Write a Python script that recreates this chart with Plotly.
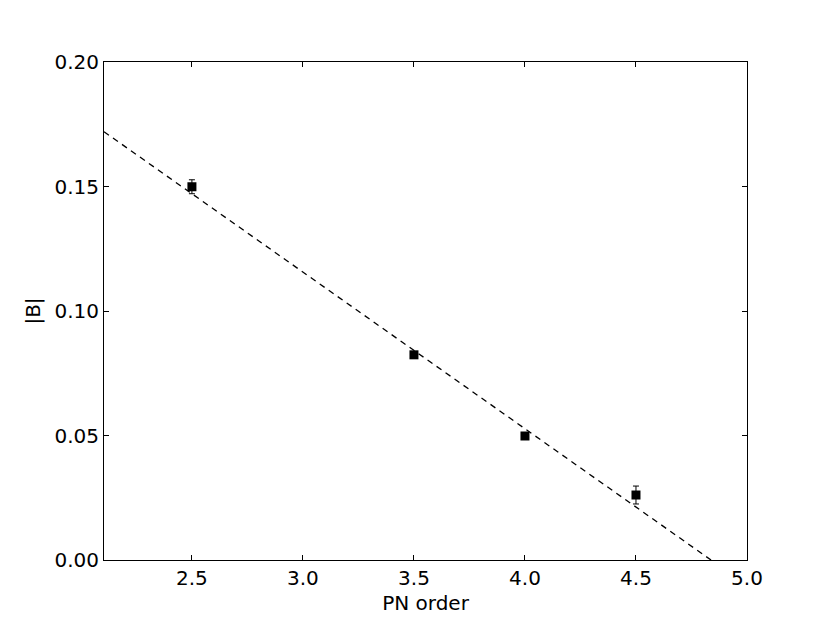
import plotly.graph_objects as go

pn_order = [2.5, 3.5, 4.0, 4.5]
abs_b = [0.1499, 0.0824, 0.0498, 0.0261]
abs_b_err = [0.0028, 0.0008, 0.0008, 0.0036]

fit_x = [2.104, 4.838]
fit_y = [0.1720, 0.0]

x_ticks = [2.5, 3.0, 3.5, 4.0, 4.5, 5.0]
y_ticks = [0.00, 0.05, 0.10, 0.15, 0.20]

FONT = "DejaVu Sans"
FS = 20

fig = go.Figure()

fig.add_trace(go.Scatter(
    x=fit_x, y=fit_y,
    mode="lines",
    line=dict(color="black", width=1.3, dash="6px,5px"),
    showlegend=False,
    hoverinfo="skip",
))

fig.add_trace(go.Scatter(
    x=pn_order, y=abs_b,
    mode="markers",
    marker=dict(symbol="square", size=9, color="black"),
    error_y=dict(type="data", array=abs_b_err, color="black", thickness=1, width=3),
    showlegend=False,
))

axis_common = dict(
    showgrid=False,
    zeroline=False,
    showline=True,
    linecolor="black",
    linewidth=1,
    mirror="ticks",
    ticks="inside",
    ticklen=5,
    tickcolor="black",
    tickfont=dict(family=FONT, size=FS, color="black"),
)

# page body has an 8px offset, so margins are shifted to land the frame in place
fig.update_layout(
    width=830,
    height=623,
    margin=dict(l=96, r=91, t=54, b=71),
    paper_bgcolor="white",
    plot_bgcolor="white",
    font=dict(family=FONT, size=FS, color="black"),
    xaxis=dict(
        range=[2.104, 5.0],
        tickvals=x_ticks,
        ticktext=[f"{v:.1f}" for v in x_ticks],
        title=dict(text="PN order", font=dict(family=FONT, size=FS), standoff=6),
        **axis_common,
    ),
    yaxis=dict(
        range=[0, 0.2],
        tickvals=y_ticks,
        ticktext=[f"{v:.2f}" for v in y_ticks],
        title=dict(text="|B|", font=dict(family=FONT, size=FS), standoff=8),
        **axis_common,
    ),
)

fig.write_html("out.html")
